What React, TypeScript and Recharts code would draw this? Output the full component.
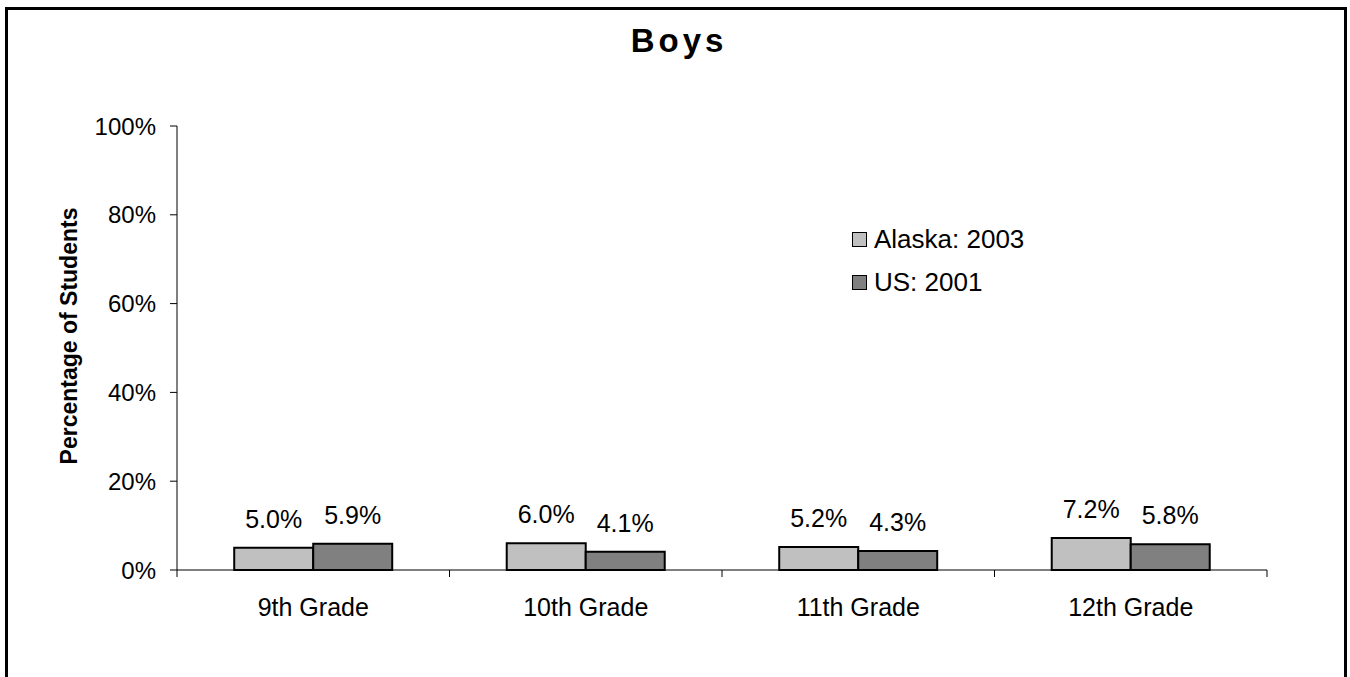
import React from 'react';
import { BarChart, Bar, XAxis, YAxis, LabelList, Legend, Label } from 'recharts';

const grades = ['9th Grade', '10th Grade', '11th Grade', '12th Grade'];
const alaska2003 = [5.0, 6.0, 5.2, 7.2];
const us2001 = [5.9, 4.1, 4.3, 5.8];
const yTicks = [0, 20, 40, 60, 80, 100];
const seriesNames = ['Alaska: 2003', 'US: 2001'];
const seriesColors = ['#C0C0C0', '#808080'];

const FONT = '"Liberation Sans", Arial, sans-serif';
const TICK_LEN = 7;
const LABEL_GAP = 28;

const data = grades.map((grade) => ({ grade }));
alaska2003.forEach((v, i) => ((data[i] as any).alaska = v));
us2001.forEach((v, i) => ((data[i] as any).us = v));

const pct = (v: number) => `${v}%`;
const pct1 = (v: number) => `${Number(v).toFixed(1)}%`;

// Excel style: tick marks sit between categories, label in the middle
function GradeTick(props: any) {
  const { x, y, payload, index, visibleTicksCount } = props;
  const half = payload.offset || 0;
  const axisY = y - LABEL_GAP;
  const isLast = index === visibleTicksCount - 1;
  return (
    <g>
      <line x1={x - half} x2={x - half} y1={axisY} y2={axisY + TICK_LEN} stroke="#000" />
      {isLast && (
        <line x1={x + half} x2={x + half} y1={axisY} y2={axisY + TICK_LEN} stroke="#000" />
      )}
      <text
        x={x}
        y={y}
        dy="0.71em"
        textAnchor="middle"
        fontFamily={FONT}
        fontSize={25}
        fill="#000"
      >
        {payload.value}
      </text>
    </g>
  );
}

function LegendBox() {
  return (
    <div style={{ fontFamily: FONT, fontSize: 26, color: '#000' }}>
      {seriesNames.map((name, i) => (
        <div key={name} style={{ display: 'flex', alignItems: 'center', height: 43 }}>
          <span
            style={{
              display: 'inline-block',
              width: 13,
              height: 13,
              border: '1.5px solid #000',
              background: seriesColors[i],
              marginRight: 7,
            }}
          />
          <span>{name}</span>
        </div>
      ))}
    </div>
  );
}

function YTitle() {
  return (
    <text
      x={0}
      y={0}
      transform="translate(77,336) rotate(-90)"
      textAnchor="middle"
      fontFamily={FONT}
      fontSize={23}
      fontWeight="bold"
      fill="#000"
    >
      Percentage of Students
    </text>
  );
}

export default function App() {
  return (
    <div
      style={{
        position: 'absolute',
        left: 0,
        top: 0,
        width: 1350,
        height: 677,
        overflow: 'hidden',
        background: '#fff',
      }}
    >
      <div
        style={{
          position: 'absolute',
          left: 5,
          top: 7,
          width: 1336,
          height: 720,
          border: '3px solid #000',
        }}
      />
      <div
        style={{
          position: 'absolute',
          left: 0,
          top: 24,
          width: 1350,
          paddingLeft: 8,
          boxSizing: 'border-box',
          textAlign: 'center',
          fontFamily: FONT,
          fontSize: 33,
          lineHeight: '33px',
          fontWeight: 'bold',
          letterSpacing: 4,
        }}
      >
        Boys
      </div>
      <div style={{ position: 'absolute', left: 0, top: 0 }}>
        <BarChart
          width={1350}
          height={677}
          data={data}
          margin={{ top: 126, right: 83, bottom: 106, left: 77 }}
          barCategoryGap="21%"
          barGap={0}
        >
          <XAxis
            dataKey="grade"
            interval={0}
            height={1}
            tickLine={false}
            tickSize={0}
            tickMargin={LABEL_GAP}
            axisLine={{ stroke: '#000' }}
            tick={<GradeTick />}
          />
          <YAxis
            width={100}
            domain={[0, 100]}
            ticks={yTicks}
            tickFormatter={pct}
            tickSize={7}
            tickMargin={14}
            tickLine={{ stroke: '#000' }}
            axisLine={{ stroke: '#000' }}
            tick={{ fontFamily: FONT, fontSize: 24, fill: '#000' }}
          >
            <Label content={<YTitle />} />
          </YAxis>
          <Legend
            layout="vertical"
            align="center"
            verticalAlign="middle"
            content={<LegendBox />}
            wrapperStyle={{ left: 852, top: 218, width: 'auto' }}
          />
          <Bar
            dataKey="alaska"
            name={seriesNames[0]}
            fill={seriesColors[0]}
            stroke="#000"
            strokeWidth={2}
            isAnimationActive={false}
          >
            <LabelList
              dataKey="alaska"
              position="top"
              offset={20}
              formatter={pct1}
              style={{ fontFamily: FONT, fontSize: 25, fill: '#000' }}
            />
          </Bar>
          <Bar
            dataKey="us"
            name={seriesNames[1]}
            fill={seriesColors[1]}
            stroke="#000"
            strokeWidth={2}
            isAnimationActive={false}
          >
            <LabelList
              dataKey="us"
              position="top"
              offset={20}
              formatter={pct1}
              style={{ fontFamily: FONT, fontSize: 25, fill: '#000' }}
            />
          </Bar>
        </BarChart>
      </div>
    </div>
  );
}
